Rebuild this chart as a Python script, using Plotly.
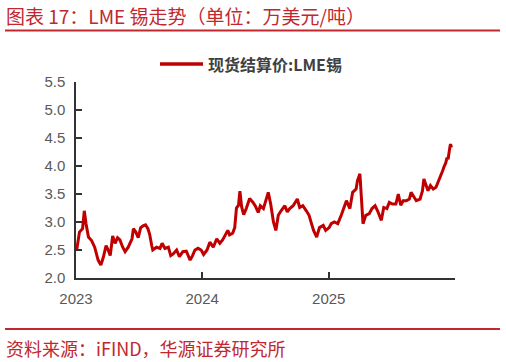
import plotly.graph_objects as go

# LME tin spot settlement price, 10k USD / tonne
dates = [
    "2023-01-03", "2023-01-11", "2023-01-20", "2023-01-25", "2023-01-30", "2023-02-06",
    "2023-02-15", "2023-02-24", "2023-03-06", "2023-03-14", "2023-03-21", "2023-03-29",
    "2023-04-04", "2023-04-10", "2023-04-17", "2023-04-24", "2023-05-01", "2023-05-08",
    "2023-05-16", "2023-05-23", "2023-06-01", "2023-06-12", "2023-06-16", "2023-06-23",
    "2023-06-30", "2023-07-07", "2023-07-14", "2023-07-21", "2023-07-28", "2023-08-02",
    "2023-08-08", "2023-08-11", "2023-08-22", "2023-09-01", "2023-09-07", "2023-09-15",
    "2023-09-25", "2023-10-02", "2023-10-09", "2023-10-19", "2023-10-27", "2023-11-06",
    "2023-11-16", "2023-11-27", "2023-12-04", "2023-12-11", "2023-12-20", "2023-12-29",
    "2024-01-05", "2024-01-15", "2024-01-23", "2024-02-02", "2024-02-12", "2024-02-21",
    "2024-02-29", "2024-03-08", "2024-03-15", "2024-03-20", "2024-03-29", "2024-04-04",
    "2024-04-09", "2024-04-15", "2024-04-19", "2024-04-24", "2024-04-30", "2024-05-08",
    "2024-05-17", "2024-05-27", "2024-06-03", "2024-06-11", "2024-06-17", "2024-06-26",
    "2024-07-05", "2024-07-10", "2024-07-17", "2024-07-25", "2024-08-01", "2024-08-08",
    "2024-08-16", "2024-08-27", "2024-09-03", "2024-09-10", "2024-09-20", "2024-10-02",
    "2024-10-09", "2024-10-18", "2024-10-28", "2024-11-05", "2024-11-12", "2024-11-18",
    "2024-11-27", "2024-12-05", "2024-12-16", "2024-12-23", "2025-01-02", "2025-01-08",
    "2025-01-17", "2025-01-27", "2025-02-06", "2025-02-14", "2025-02-21", "2025-03-03",
    "2025-03-11", "2025-03-21", "2025-03-25", "2025-04-01", "2025-04-07", "2025-04-10",
    "2025-04-18", "2025-04-28", "2025-05-06", "2025-05-15", "2025-05-22", "2025-06-02",
    "2025-06-09", "2025-06-18", "2025-06-25", "2025-07-04", "2025-07-14", "2025-07-21",
    "2025-07-28", "2025-08-04", "2025-08-13", "2025-08-22", "2025-08-27", "2025-09-03",
    "2025-09-11", "2025-09-22", "2025-09-29", "2025-10-03", "2025-10-09", "2025-10-15",
    "2025-10-22", "2025-10-30", "2025-11-07", "2025-11-13", "2025-11-20", "2025-11-26",
    "2025-12-01", "2025-12-05", "2025-12-09", "2025-12-12", "2025-12-17", "2025-12-19",
    "2025-12-22",
]
values = [
    2.50, 2.82, 2.88, 3.20, 2.97, 2.73,
    2.67, 2.55, 2.32, 2.23, 2.37, 2.58,
    2.50, 2.40, 2.75, 2.62, 2.72, 2.68,
    2.55, 2.47, 2.55, 2.70, 2.88, 2.82,
    2.72, 2.90, 2.93, 2.95, 2.88, 2.78,
    2.58, 2.50, 2.55, 2.53, 2.62, 2.53,
    2.55, 2.40, 2.43, 2.50, 2.38, 2.47,
    2.48, 2.32, 2.40, 2.50, 2.53, 2.50,
    2.42, 2.50, 2.64, 2.55, 2.70, 2.62,
    2.68, 2.77, 2.85, 2.77, 2.80, 2.90,
    3.25, 3.30, 3.55, 3.27, 3.13, 3.25,
    3.42, 3.35, 3.28, 3.17, 3.29, 3.24,
    3.41, 3.53, 3.32, 3.00, 2.85, 3.12,
    3.20, 3.29, 3.18, 3.24, 3.29, 3.41,
    3.26, 3.29, 3.20, 3.12, 2.97, 2.85,
    2.73, 2.90, 2.94, 2.85, 2.90, 2.97,
    3.00, 2.97, 3.12, 3.26, 3.38, 3.24,
    3.53, 3.59, 3.74, 3.86, 3.32, 2.97,
    3.12, 3.15, 3.24, 3.29, 3.20, 3.03,
    3.26, 3.24, 3.35, 3.32, 3.32, 3.50,
    3.30, 3.38, 3.38, 3.41, 3.53, 3.47,
    3.38, 3.41, 3.56, 3.77, 3.68, 3.56,
    3.65, 3.59, 3.62, 3.71, 3.80, 3.91,
    4.00, 4.05, 4.15, 4.12, 4.33, 4.39,
    4.33,
]
series_name = "现货结算价:LME锡"
x_tick_vals = ["2023-01-01", "2024-01-01", "2025-01-01"]
x_tick_text = ["2023", "2024", "2025"]
y_tick_vals = [2.0, 2.5, 3.0, 3.5, 4.0, 4.5, 5.0, 5.5]
title_text = "图表 17：LME 锡走势（单位：万美元/吨）"
source_text = "资料来源：iFIND，华源证券研究所"

W, H = 506, 362
L, R, T, B = 76, 455, 82, 278
LINE_RED = "#C00000"
TXT_RED = "#C0282E"
GRAY = "#595959"


def px_x(p):
    return (p - L) / (R - L)


def px_y(p):
    return (B - p) / (B - T)


fig = go.Figure()
fig.add_trace(go.Scatter(
    x=dates, y=values, mode="lines", name=series_name,
    line=dict(color=LINE_RED, width=3), showlegend=False,
))

fig.update_layout(
    width=W, height=H,
    margin=dict(l=L, r=W - R, t=T, b=H - B, pad=0),
    paper_bgcolor="white", plot_bgcolor="white",
    font=dict(family="Liberation Sans, Arial", color=GRAY),
    xaxis=dict(
        type="date", range=["2023-01-01", "2026-01-01"],
        tickvals=x_tick_vals, ticktext=x_tick_text,
        ticks="inside", ticklen=6, tickcolor="#333333", tickwidth=1.5,
        showline=True, linecolor="#333333", linewidth=1.5,
        showgrid=False, zeroline=False,
        tickfont=dict(size=15, color=GRAY),
        ticklabelstandoff=6,
    ),
    yaxis=dict(
        range=[2.0, 5.5], tickvals=y_tick_vals, tickformat=".1f",
        ticks="inside", ticklen=6, tickcolor="#333333", tickwidth=1.5,
        showline=True, linecolor="#333333", linewidth=1.5,
        showgrid=False, zeroline=False,
        tickfont=dict(size=15, color=GRAY),
        ticklabelstandoff=6,
    ),
)

shapes = [
    dict(type="line", xref="paper", yref="paper",
         x0=px_x(5), x1=px_x(500), y0=px_y(30.5), y1=px_y(30.5),
         line=dict(color=TXT_RED, width=2)),
    dict(type="line", xref="paper", yref="paper",
         x0=px_x(5), x1=px_x(500), y0=px_y(329), y1=px_y(329),
         line=dict(color=TXT_RED, width=2)),
    dict(type="line", xref="paper", yref="paper",
         x0=px_x(160), x1=px_x(203), y0=px_y(64), y1=px_y(64),
         line=dict(color=LINE_RED, width=3.5)),
]
fig.update_layout(shapes=shapes)

fig.add_annotation(
    x=px_x(4), y=px_y(15), xref="paper", yref="paper",
    xanchor="left", yanchor="middle", showarrow=False,
    text=title_text, font=dict(family="Noto Sans CJK SC", size=19, color=TXT_RED),
)
fig.add_annotation(
    x=px_x(4), y=px_y(348), xref="paper", yref="paper",
    xanchor="left", yanchor="middle", showarrow=False,
    text=source_text, font=dict(family="Noto Sans CJK SC", size=18, color=TXT_RED),
)
fig.add_annotation(
    x=px_x(206), y=px_y(64), xref="paper", yref="paper",
    xanchor="left", yanchor="middle", showarrow=False,
    text="<b>" + series_name + "</b>",
    font=dict(family="Noto Sans CJK SC", size=16, color="#404040"),
)

fig.write_html("out.html", config={"displayModeBar": False},
               post_script="document.body.style.margin='0';")
